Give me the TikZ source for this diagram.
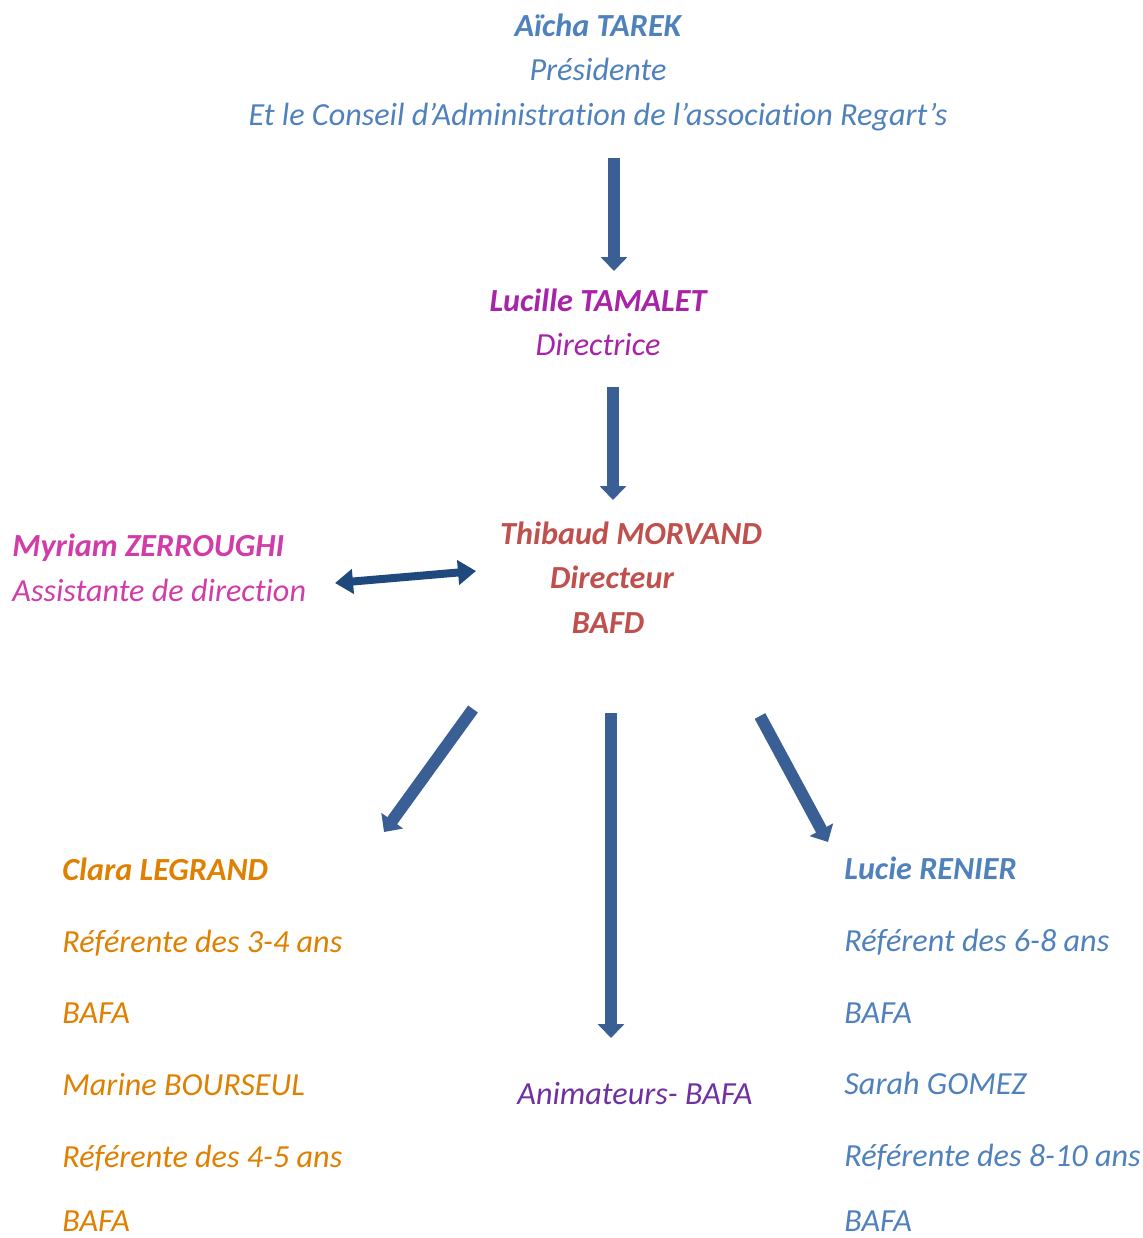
\documentclass[tikz,border=0pt]{standalone}
\usepackage{fontspec}
\setmainfont{Carlito}[Ligatures=CommonOff]
\usetikzlibrary{arrows.meta}
\definecolor{bleu}{HTML}{4F81BD}
\definecolor{violetrose}{HTML}{A823A8}
\definecolor{rose}{HTML}{D23CA8}
\definecolor{rouge}{HTML}{C0504D}
\definecolor{orange}{HTML}{E08000}
\definecolor{violet}{HTML}{7030A0}
\definecolor{flechebleu}{HTML}{3A5F94}
\definecolor{flechefonce}{HTML}{1F497D}
\tikzset{
  txt/.style={anchor=base, inner sep=0pt, font=\fontsize{16.1}{19}\selectfont\itshape},
  nom/.style={anchor=base, inner sep=0pt, font=\fontsize{16.1}{19}\selectfont\bfseries\itshape},
  gauche/.style={anchor=base west},
  fleche/.style={draw=flechebleu, line width=6pt, -{Triangle[width=13pt,length=7pt]}},
  double fleche/.style={draw=flechefonce, line width=4pt, {Triangle[width=12pt,length=9pt]}-{Triangle[width=12pt,length=9pt]}},
}
\begin{document}
\begin{tikzpicture}[x=0.5pt,y=-0.5pt]
\useasboundingbox (0,0) rectangle (1143,1238);
%
% presidence
\node[nom, bleu] (aicha) at (598,36) {Aïcha TAREK};
\node[txt, bleu] (presidente) at (598,80) {Présidente};
\node[txt, bleu] (conseil) at (598,125) {Et le Conseil d’Administration de l’association Regart’s};
%
% direction
\node[nom, violetrose] (lucille) at (598,311) {Lucille TAMALET};
\node[txt, violetrose] (directrice) at (598,355) {Directrice};
%
\node[nom, rouge] (thibaud) at (631,544) {Thibaud MORVAND};
\node[nom, rouge] (directeur) at (612,588) {Directeur};
\node[nom, rouge] (bafd) at (608,633) {BAFD};
%
\node[nom, rose, gauche] (myriam) at (12,556) {Myriam ZERROUGHI};
\node[txt, rose, gauche] (assistante) at (12,601) {Assistante de direction};
%
% referents
\node[nom, orange, gauche] (clara) at (62,880) {Clara LEGRAND};
\node[txt, orange, gauche] (clara-ref) at (62,952) {Référente des 3-4 ans};
\node[txt, orange, gauche] (clara-bafa) at (62,1023) {BAFA};
\node[txt, orange, gauche] (marine) at (62,1095) {Marine BOURSEUL};
\node[txt, orange, gauche] (marine-ref) at (62,1167) {Référente des 4-5 ans};
\node[txt, orange, gauche] (marine-bafa) at (62,1231) {BAFA};
%
\node[nom, bleu, gauche] (lucie) at (844,879) {Lucie RENIER};
\node[txt, bleu, gauche] (lucie-ref) at (844,951) {Référent des 6-8 ans};
\node[txt, bleu, gauche] (lucie-bafa) at (844,1023) {BAFA};
\node[txt, bleu, gauche] (sarah) at (844,1094) {Sarah GOMEZ};
\node[txt, bleu, gauche] (sarah-ref) at (844,1166) {Référente des 8-10 ans};
\node[txt, bleu, gauche] (sarah-bafa) at (844,1231) {BAFA};
%
\node[txt, violet, gauche] (animateurs) at (517,1104) {Animateurs- BAFA};
%
% fleches
\coordinate (p1) at (614,158);
\coordinate (p2) at (614,271);
\coordinate (d1) at (613,387);
\coordinate (d2) at (613,500);
\coordinate (a1) at (335,583);
\coordinate (a2) at (476,571);
\coordinate (g1) at (473,709);
\coordinate (g2) at (384,832);
\coordinate (c1) at (611,713);
\coordinate (c2) at (611,1038);
\coordinate (r1) at (760,716);
\coordinate (r2) at (828,842);
\draw[fleche] (p1) -- (p2);
\draw[fleche] (d1) -- (d2);
\draw[double fleche] (a1) -- (a2);
\draw[fleche] (g1) -- (g2);
\draw[fleche] (c1) -- (c2);
\draw[fleche] (r1) -- (r2);
%
\end{tikzpicture}
\end{document}
